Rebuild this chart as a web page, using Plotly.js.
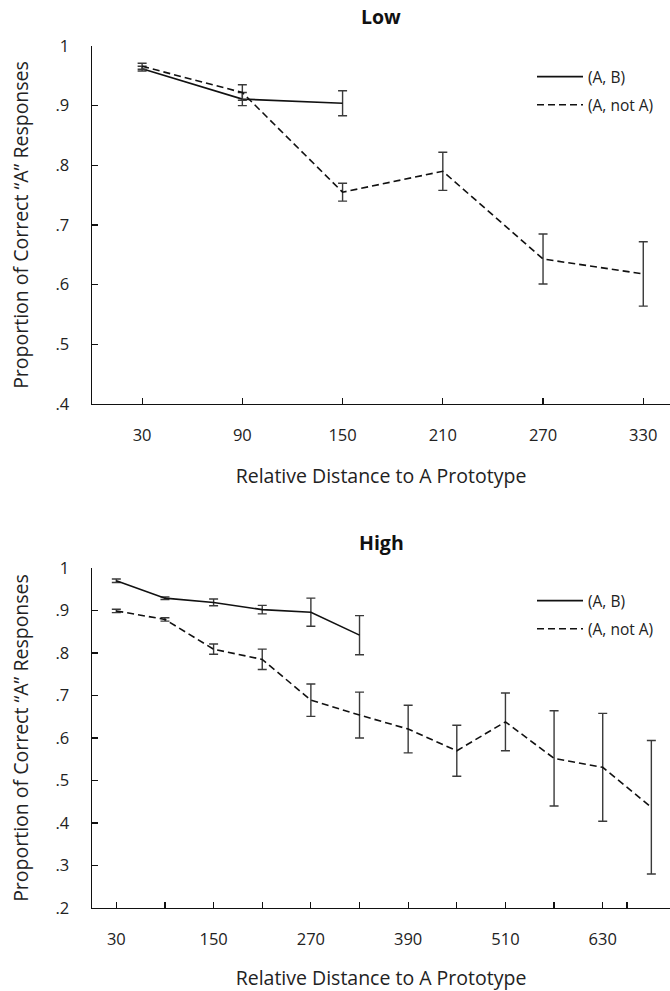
<!DOCTYPE html>
<html>
<head>
<meta charset="utf-8">
<script src="https://cdn.plot.ly/plotly-3.0.1.min.js"></script>
<style>html,body{margin:0;padding:0;background:#fff;}#chart{width:670px;height:991px;}</style>
</head>
<body>
<div id="chart"></div>
<script>
// ---- Data ----
var distLow = [30, 90, 150, 210, 270, 330];
var lowAB = [0.962, 0.911, 0.904];
var lowABErr = [0.004, 0.011, 0.021];
var lowNotA = [0.966, 0.922, 0.755, 0.790, 0.643, 0.618];
var lowNotAErr = [0.005, 0.013, 0.015, 0.032, 0.042, 0.054];

var distHigh = [30, 90, 150, 210, 270, 330, 390, 450, 510, 570, 630, 690];
var highAB = [0.970, 0.929, 0.919, 0.902, 0.896, 0.842];
var highABErr = [0.004, 0.003, 0.008, 0.010, 0.033, 0.046];
var highNotA = [0.899, 0.879, 0.809, 0.785, 0.689, 0.654, 0.621, 0.570, 0.638, 0.552, 0.531, 0.437];
var highNotAErr = [0.004, 0.004, 0.012, 0.024, 0.038, 0.054, 0.056, 0.060, 0.068, 0.112, 0.127, 0.157];

var seriesNames = ['(A, B)', '(A, not A)'];
var panelTitles = ['Low', 'High'];
var xTitle = 'Relative Distance to A Prototype';
var yTitle = 'Proportion of Correct \u201CA\u201D Responses';

var lowXTicks = [30, 90, 150, 210, 270, 330];
var lowXText = ['30', '90', '150', '210', '270', '330'];
var highXTicks = [30, 90, 150, 210, 270, 330, 390, 450, 510, 570, 630, 660];
var highXText = ['30', '', '150', '', '270', '', '390', '', '510', '', '630', ''];
var lowYTicks = [0.4, 0.5, 0.6, 0.7, 0.8, 0.9, 1.0];
var lowYText = ['.4', '.5', '.6', '.7', '.8', '.9', '1'];
var highYTicks = [0.2, 0.3, 0.4, 0.5, 0.6, 0.7, 0.8, 0.9, 1.0];
var highYText = ['.2', '.3', '.4', '.5', '.6', '.7', '.8', '.9', '1'];

// ---- Styles ----
var FONT = 'Open Sans, Noto Sans, sans-serif';
var errStyle = {type: 'data', visible: true, color: '#3a3a3a', thickness: 1.4, width: 4.5};
var solidLine = {color: '#111', width: 1.6, dash: 'solid'};
var dashLine = {color: '#111', width: 1.6, dash: '7px,4px'};

function mk(x, y, err, name, line, xa, ya, leg, grp) {
  return {
    x: x.slice(0, y.length), y: y, type: 'scatter', mode: 'lines', name: name,
    line: line, xaxis: xa, yaxis: ya, legend: leg, legendgroup: grp,
    error_y: Object.assign({array: err}, errStyle), hoverinfo: 'x+y'
  };
}

var traces = [
  mk(distLow, lowAB, lowABErr, seriesNames[0], solidLine, 'x', 'y', 'legend', 'l1'),
  mk(distLow, lowNotA, lowNotAErr, seriesNames[1], dashLine, 'x', 'y', 'legend', 'l2'),
  mk(distHigh, highAB, highABErr, seriesNames[0], solidLine, 'x2', 'y2', 'legend2', 'h1'),
  mk(distHigh, highNotA, highNotAErr, seriesNames[1], dashLine, 'x2', 'y2', 'legend2', 'h2')
];

var H = 991;
var xDom = [92 / 670, 1];
var yDomTop = [1 - 404 / H, 1 - 46 / H];
var yDomBot = [1 - 908 / H, 1 - 568 / H];

function xAxis(dom, anchor, rng, tv, tt) {
  return {
    domain: dom, anchor: anchor, range: rng, tickmode: 'array', tickvals: tv, ticktext: tt,
    ticks: 'inside', ticklen: 6, tickwidth: 1.2, tickcolor: '#111',
    showline: true, linecolor: '#111', linewidth: 1.4, showgrid: false, zeroline: false,
    tickfont: {family: FONT, size: 16.5, color: '#222'}, ticklabelstandoff: 16,
    title: {text: xTitle, font: {family: FONT, size: 19.5, color: '#222'}, standoff: 24},
    automargin: false, fixedrange: true
  };
}
function yAxis(dom, anchor, rng, tv, tt) {
  return {
    domain: dom, anchor: anchor, range: rng, tickmode: 'array', tickvals: tv, ticktext: tt,
    ticks: 'inside', ticklen: 6, tickwidth: 1.2, tickcolor: '#111',
    showline: true, linecolor: '#111', linewidth: 1.4, showgrid: false, zeroline: false,
    tickfont: {family: FONT, size: 16.5, color: '#222'}, ticklabelstandoff: 18,
    title: {text: yTitle, font: {family: FONT, size: 19.5, color: '#222'}, standoff: 21},
    automargin: false, fixedrange: true
  };
}

var legendBase = {
  xanchor: 'left', yanchor: 'top', bgcolor: 'rgba(0,0,0,0)',
  font: {family: FONT, size: 15.5, color: '#222'}, traceorder: 'grouped', tracegroupgap: 5,
  itemwidth: 46
};

var layout = {
  width: 670, height: 991,
  margin: {l: 0, r: 0, t: 0, b: 0},
  paper_bgcolor: '#fff', plot_bgcolor: '#fff',
  showlegend: true,
  xaxis: xAxis(xDom, 'y', [0, 346], lowXTicks, lowXText),
  yaxis: yAxis(yDomTop, 'x', [0.4, 1.0], lowYTicks, lowYText),
  xaxis2: xAxis(xDom, 'y2', [0, 713], highXTicks, highXText),
  yaxis2: yAxis(yDomBot, 'x2', [0.2, 1.0], highYTicks, highYText),
  legend: Object.assign({x: 532 / 670, y: 1 - 60 / H}, legendBase),
  legend2: Object.assign({x: 532 / 670, y: 1 - 584 / H}, legendBase),
  annotations: [
    {text: '<b>' + panelTitles[0] + '</b>', xref: 'paper', yref: 'paper', x: (xDom[0] + xDom[1]) / 2, y: 1 - 17 / H,
     xanchor: 'center', yanchor: 'middle', showarrow: false, font: {family: FONT, size: 19.5, color: '#111'}},
    {text: '<b>' + panelTitles[1] + '</b>', xref: 'paper', yref: 'paper', x: (xDom[0] + xDom[1]) / 2, y: 1 - 542 / H,
     xanchor: 'center', yanchor: 'middle', showarrow: false, font: {family: FONT, size: 19.5, color: '#111'}}
  ]
};

Plotly.newPlot('chart', traces, layout, {displayModeBar: false, staticPlot: true});
</script>
</body>
</html>
